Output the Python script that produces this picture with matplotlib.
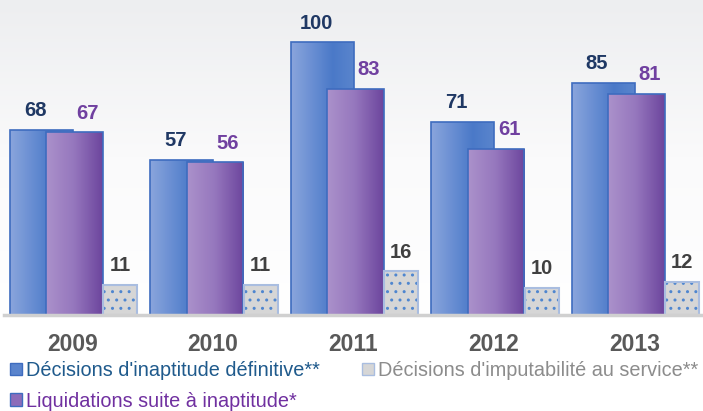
import matplotlib.pyplot as plt
import numpy as np
from matplotlib.patches import Patch
from matplotlib.colors import LinearSegmentedColormap

plt.rcParams['font.family'] = ['Liberation Sans', 'DejaVu Sans']

years = ['2009', '2010', '2011', '2012', '2013']
inaptitude = [68, 57, 100, 71, 85]
liquidations = [67, 56, 83, 61, 81]
imputabilite = [11, 11, 16, 10, 12]

labels = ["Décisions d'inaptitude définitive**",
          "Liquidations suite à inaptitude*",
          "Décisions d'imputabilité au service**"]

W, H = 703, 411
fig = plt.figure(figsize=(W / 100, H / 100), dpi=100)

# fond en dégradé
bg = fig.add_axes([0, 0, 1, 1], zorder=-10)
grad = np.linspace(0, 1, 256).reshape(-1, 1)
bg_cmap = LinearSegmentedColormap.from_list('bg', ['#ffffff', '#fafafb', '#edeef0'])
bg.imshow(grad, extent=[0, 1, (H - 315) / H, 1], aspect='auto', cmap=bg_cmap, origin='lower')
bg.set_xlim(0, 1)
bg.set_ylim(0, 1)
bg.axis('off')

base = 315
ax = fig.add_axes([0, (H - base) / H, 1, base / H])
ax.set_facecolor('none')
x = np.arange(len(years))

blue_cmap = LinearSegmentedColormap.from_list('b', ['#8aa5dc', '#6a8fd3', '#4a79c8', '#5a85cd'])
purple_cmap = LinearSegmentedColormap.from_list('p', ['#ab92cb', '#9576bd', '#6c459d'])
hgrad = np.linspace(0, 1, 128).reshape(1, -1)


def grad_bars(xc, vals, width, cmap, z):
    bars = ax.bar(xc, vals, width, facecolor='none', edgecolor='#3e6cbf', linewidth=1.2, zorder=z + 0.5)
    for b in bars:
        im = ax.imshow(hgrad, extent=[b.get_x(), b.get_x() + b.get_width(), 0, b.get_height()],
                       aspect='auto', cmap=cmap, zorder=z)
        im.set_clip_path(b)
    return bars


grad_bars(x - 0.22, inaptitude, 0.448, blue_cmap, 2)
# fond blanc sous les barres violettes pour cacher le bleu
ax.bar(x + 0.018, liquidations, 0.405, color='white', zorder=2.8)
grad_bars(x + 0.018, liquidations, 0.405, purple_cmap, 3)
plt.rcParams['hatch.linewidth'] = 1.0
ax.bar(x + 0.342, imputabilite, 0.242, color='#d6d6d6', edgecolor='#4f86cf', hatch='..', linewidth=0, zorder=4)
ax.bar(x + 0.342, imputabilite, 0.242, facecolor='none', edgecolor='#a9bde0', linewidth=1.5, zorder=4.5)

for i in range(len(years)):
    ax.annotate(str(inaptitude[i]), (x[i] - 0.263, inaptitude[i]), xytext=(0, 10), textcoords='offset points',
                ha='center', va='baseline', fontsize=14.5, fontweight='bold', color='#1f3864')
    ax.annotate(str(liquidations[i]), (x[i] + 0.11, liquidations[i]), xytext=(0, 10), textcoords='offset points',
                ha='center', va='baseline', fontsize=14.5, fontweight='bold', color='#7040a0')
    ax.annotate(str(imputabilite[i]), (x[i] + 0.342, imputabilite[i]), xytext=(0, 10), textcoords='offset points',
                ha='center', va='baseline', fontsize=14.5, fontweight='bold', color='#404040')

ax.set_xlim(-72 / 140.5, (W - 72) / 140.5)
ax.set_ylim(0, base / 2.725)
ax.axhline(0, xmin=4 / W, xmax=1, color='#d0d0d0', linewidth=2.5, zorder=5, clip_on=False)
for s in ax.spines.values():
    s.set_visible(False)
ax.set_yticks([])
ax.set_xticks(x + 0.004)
ax.set_xticklabels(years, fontsize=16.5, fontweight='bold', color='#595959')
ax.tick_params(axis='x', length=0, pad=13)

handles = [Patch(facecolor='#5a84cd', edgecolor='#3e6cbf'),
           Patch(facecolor='#8c6cb9', edgecolor='#3e6cbf'),
           Patch(facecolor='#d6d6d6', edgecolor='#a9bde0')]
leg = fig.legend(handles, labels, ncol=2, loc='upper left', bbox_to_anchor=(10 / W, 1 - 361 / H),
                 frameon=False, fontsize=14.3, handlelength=0.62, handleheight=0.62, handletextpad=0.2,
                 columnspacing=2.1, labelspacing=0.6, borderpad=0, borderaxespad=0)
for t, c in zip(leg.get_texts(), ['#1f5a8c', '#7030a0', '#8c8c8c']):
    t.set_color(c)

fig.savefig('out.png', dpi=100)
